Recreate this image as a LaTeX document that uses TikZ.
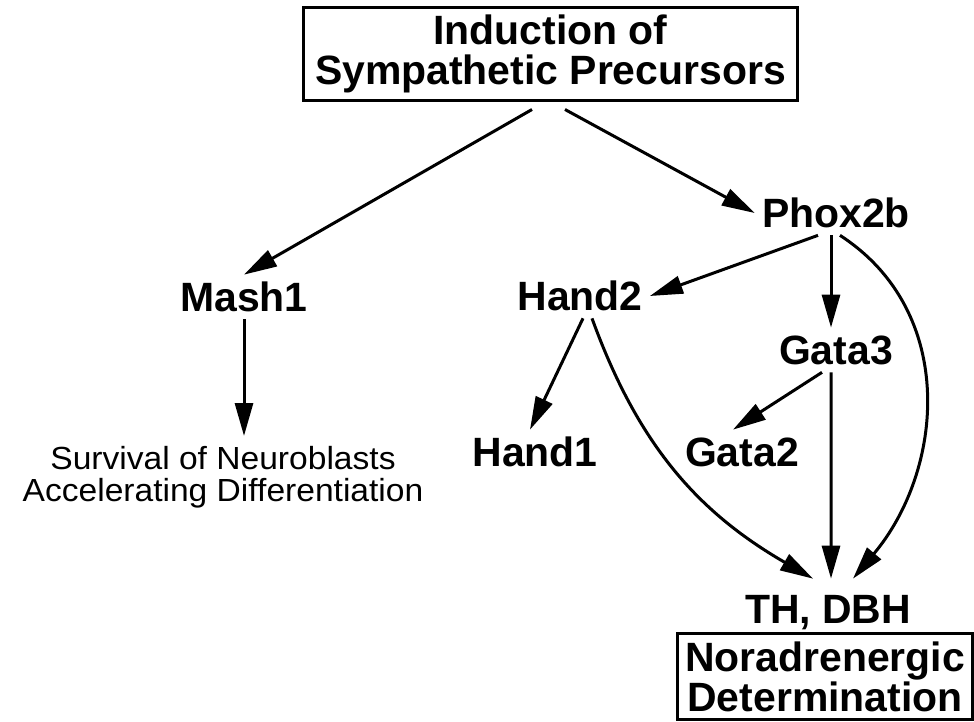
\documentclass[tikz,border=0pt]{standalone}
\usepackage{fontspec}
\setmainfont{Liberation Sans}
\newfontfamily\widefont{Liberation Sans}[FakeStretch=1.05]
\usetikzlibrary{arrows.meta}

\begin{document}
\begin{tikzpicture}[
        x=0.02cm, y=0.02cm,
        gene/.style={font=\fontsize{23.3pt}{22.8pt}\selectfont\bfseries, inner sep=0.14cm, text height=0.6cm, text depth=0pt, anchor=base},
        stagebox/.style={draw, line width=0.06cm, align=center, inner sep=0pt, font=\fontsize{23.3pt}{22.8pt}\selectfont\bfseries},
        effect/.style={align=center, inner sep=0.2cm, anchor=north, font=\fontsize{18.2pt}{18.4pt}\widefont},
        arrow/.style={-{Triangle[length=0.66cm, width=0.36cm]}, line width=0.06cm}
        ]

        \useasboundingbox (0,0) rectangle (974,-722);

        % Nodes
        \node (induction) [stagebox, minimum width=9.9cm, minimum height=1.88cm] at (550.5,-54) {Induction of\\Sympathetic Precursors};
        \node (mash1) [gene] at (244,-312) {Mash1};
        \node (phox2b) [gene] at (836,-228) {Phox2b};
        \node (hand2) [gene] at (580,-311) {Hand2};
        \node (gata3) [gene] at (836,-365) {Gata3};
        \node (hand1) [gene] at (535,-467) {Hand1};
        \node (gata2) [gene] at (742,-467) {Gata2};
        \node (th) [gene, inner ysep=0.28cm] at (828,-623) {TH, DBH};
        \node (noradr) [stagebox, minimum width=5.92cm, minimum height=1.74cm] at (825,-676.5) {Noradrenergic\\Determination};
        \node (survival) [effect] at (223,-436) {Survival of Neuroblasts\\Accelerating Differentiation};

        % Arrows
        \draw [arrow] ([shift={(-0.37cm,-0.14cm)}]induction.south) -- (mash1.north);
        \draw [arrow] ([shift={(0.29cm,-0.14cm)}]induction.south) -- (phox2b.west);
        \draw [arrow] ([xshift=-0.36cm]phox2b.south) -- (hand2.east);
        \draw [arrow] ([xshift=-0.1cm]phox2b.south) -- ([xshift=-0.1cm]gata3.north);
        \draw [arrow] ([xshift=0.08cm]phox2b.south) to[out=-33, in=50, looseness=1.05] ([xshift=0.5cm]th.north);
        \draw [arrow] ([xshift=0.06cm]hand2.south) -- ([xshift=-0.1cm]hand1.north);
        \draw [arrow] ([xshift=0.24cm]hand2.south) to[out=-70, in=150] ([xshift=-0.3cm]th.north);
        \draw [arrow] ([xshift=-0.28cm]gata3.south) -- ([xshift=-0.18cm]gata2.north);
        \draw [arrow] ([xshift=-0.1cm]gata3.south) -- ([xshift=0.06cm]th.north);
        \draw [arrow] (mash1.south) -- (mash1.south |- survival.north);

\end{tikzpicture}
\end{document}
